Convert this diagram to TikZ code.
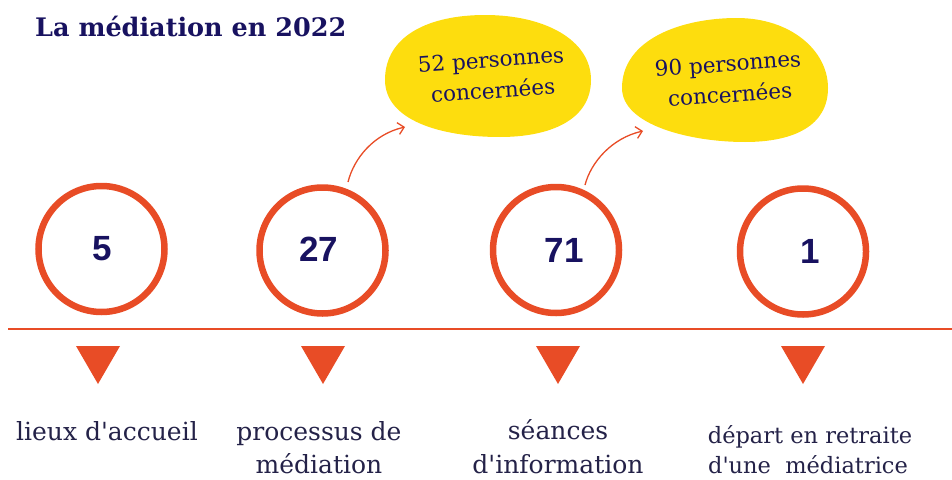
\documentclass[tikz,border=0pt]{standalone}
\usepackage{fontspec}
\setmainfont{DejaVu Serif}[Ligatures=TeXOff]
\newfontfamily\numfont{Liberation Sans}
\usetikzlibrary{arrows.meta}
\definecolor{orng}{RGB}{232,76,38}
\definecolor{yel}{RGB}{253,221,14}
\definecolor{navy}{RGB}{24,18,96}
\definecolor{ink}{RGB}{36,34,72}
\begin{document}
\begin{tikzpicture}[x=1pt,y=-1pt,
 ring/.style={circle,draw=orng,line width=6.5pt,minimum size=126pt,inner sep=0pt},
 num/.style={font=\numfont\bfseries\fontsize{35}{40}\selectfont,text=navy,inner sep=0pt},
 lbl/.style={font=\fontsize{25}{35}\selectfont,text=ink,align=center,inner sep=0pt},
 lblsmall/.style={font=\fontsize{22.5}{32}\selectfont,text=ink,align=center,inner sep=0pt},
 blobtxt/.style={font=\fontsize{21.5}{31}\selectfont,text=navy,align=center,inner sep=0pt,rotate=4},
 marker/.style={fill=orng},
 blob/.style={fill=yel},
 pointer/.style={draw=orng,line width=1.3pt,-{Straight Barb[length=6pt,width=12pt]}},
 timeline/.style={draw=orng,line width=2.5pt}
]
\useasboundingbox (0,0) rectangle (952,479);

% title
\node[anchor=base west,font=\bfseries\fontsize{25.5}{30}\selectfont,text=navy,inner sep=0pt] (title) at (35,36) {La médiation en 2022};

% yellow blobs
\fill[blob] (385,80) .. controls (385,35) and (430,15) .. (485,15)
  .. controls (545,15) and (591,40) .. (591,80)
  .. controls (591,120) and (550,137) .. (500,137)
  .. controls (440,137) and (385,120) .. (385,80) -- cycle;
\fill[blob] (622,88) .. controls (622,40) and (680,18) .. (737,18)
  .. controls (790,18) and (828,50) .. (828,88)
  .. controls (828,125) and (795,142) .. (745,142)
  .. controls (690,142) and (622,125) .. (622,88) -- cycle;
\node[blobtxt] (t1) at (492,75) {52 personnes\\concernées};
\node[blobtxt] (t2) at (729,79) {90 personnes\\concernées};

% circles
\node[ring] (c1) at (101.5,249) {};
\node[ring] (c2) at (322.5,250.5) {};
\node[ring] (c3) at (556,250) {};
\node[ring] (c4) at (803,251.5) {};
\node[num] (n1) at (102,249) {5};
\node[num] (n2) at (319,249) {27};
\node[num] (n3) at (564,250) {71};
\node[num] (n4) at (810,251) {1};

% arrows
\coordinate (a1s) at (348,182);
\coordinate (a1e) at (405,127);
\coordinate (a2s) at (585,185);
\coordinate (a2e) at (643,131);
\draw[pointer] (a1s) .. controls (354,158) and (374,134) .. (a1e);
\draw[pointer] (a2s) .. controls (591,162) and (612,138) .. (a2e);

% timeline
\coordinate (l0) at (8,329);
\coordinate (l1) at (952,329);
\draw[timeline] (l0) -- (l1);

% triangles
\fill[marker] (76,346) -- (120,346) -- (98,384) -- cycle;
\fill[marker] (301,346) -- (345,346) -- (323,384) -- cycle;
\fill[marker] (536,346) -- (580,346) -- (558,384) -- cycle;
\fill[marker] (781,346) -- (825,346) -- (803,384) -- cycle;

% labels
\node[lbl,anchor=base] (l1a) at (107,440) {lieux d'accueil};
\node[lbl,anchor=base] (l2a) at (319,440) {processus de};
\node[lbl,anchor=base] (l2b) at (319,473) {médiation};
\node[lbl,anchor=base] (l3a) at (558,439) {séances};
\node[lbl,anchor=base] (l3b) at (558,473) {d'information};
\node[lblsmall,anchor=base] (l4a) at (810,443) {départ en retraite};
\node[lblsmall,anchor=base] (l4b) at (808,473) {d'une\ \ médiatrice};
\end{tikzpicture}
\end{document}
